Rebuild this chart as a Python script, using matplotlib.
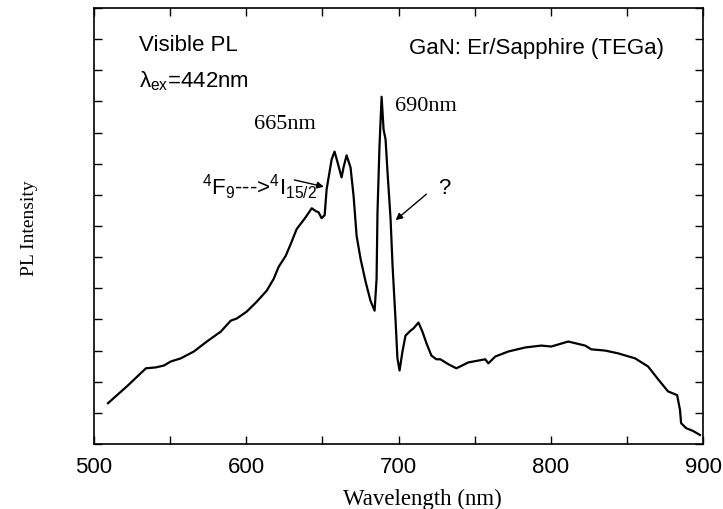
import matplotlib
matplotlib.use("Agg")
import matplotlib.pyplot as plt
from matplotlib.ticker import MultipleLocator, FuncFormatter

plt.rcParams['mathtext.fontset'] = 'custom'
plt.rcParams['mathtext.rm'] = 'Liberation Sans'
plt.rcParams['mathtext.it'] = 'Liberation Sans'

wavelength = [509.2, 521.6, 534.1, 540.7, 545.9, 550.5, 557.0, 565.6, 574.1, 583.3,
              589.8, 593.8, 600.3, 606.9, 613.4, 618.0, 621.3, 625.9, 629.2, 633.1,
              639.0, 643.0, 645.6, 647.5, 649.5, 651.5, 652.8, 656.1, 658.0, 660.0,
              662.6, 663.9, 665.9, 668.5, 670.5, 672.5, 675.1, 678.4, 681.6, 684.3,
              685.6, 686.2, 687.5, 688.9, 690.2, 691.5, 692.8, 694.8, 696.1, 698.0,
              699.3, 700.7, 702.6, 704.6, 707.9, 709.8, 713.1, 715.7, 718.4, 721.6,
              724.9, 727.5, 732.8, 738.0, 745.9, 757.0, 759.0, 763.6, 772.1, 783.3,
              793.8, 800.3, 811.5, 822.6, 826.6, 835.7, 844.3, 855.4, 863.9, 870.5,
              877.0, 883.0, 884.9, 885.6, 888.9, 893.4, 898.0]
intensity = [1.31, 1.85, 2.43, 2.46, 2.52, 2.65, 2.75, 2.97, 3.29, 3.61,
             3.96, 4.03, 4.25, 4.57, 4.92, 5.30, 5.69, 6.04, 6.42, 6.90,
             7.28, 7.57, 7.48, 7.44, 7.25, 7.35, 8.18, 9.14, 9.39, 9.04,
             8.56, 8.88, 9.27, 8.88, 7.96, 6.68, 5.94, 5.21, 4.60, 4.28,
             5.30, 7.44, 9.55, 11.15, 10.10, 9.78, 8.72, 7.22, 5.72, 4.03,
             2.75, 2.36, 2.97, 3.48, 3.64, 3.71, 3.90, 3.61, 3.23, 2.84,
             2.72, 2.72, 2.56, 2.43, 2.62, 2.72, 2.59, 2.81, 2.97, 3.10,
             3.16, 3.13, 3.29, 3.16, 3.04, 3.00, 2.91, 2.75, 2.49, 2.08,
             1.69, 1.57, 1.09, 0.67, 0.51, 0.42, 0.29]

fig = plt.figure(figsize=(7.23, 5.10), dpi=100)
ax = fig.add_axes([94/723, 65/510, 609/723, 436/510])
ax.plot(wavelength, intensity, color='black', lw=1.6)
ax.set_xlim(500, 900)
ax.set_ylim(0, 14)

ax.xaxis.set_major_locator(MultipleLocator(50))
ax.xaxis.set_major_formatter(FuncFormatter(lambda v, p: f"{int(v)}" if int(round(v)) % 100 == 0 else ""))
ax.yaxis.set_major_locator(MultipleLocator(1))
ax.tick_params(direction='in', length=6, width=1.0, top=True, right=True,
               labelleft=False, labelsize=16, pad=9)
for lbl in ax.get_xticklabels():
    lbl.set_fontfamily('Liberation Sans')
for s in ax.spines.values():
    s.set_linewidth(1.2)

fig.text(422/723, 5/510, 'Wavelength (nm)', family='Liberation Serif', fontsize=16.5,
         ha='center', va='baseline')
fig.text(29/723, (510-228)/510, 'PL Intensity', family='Liberation Serif', fontsize=14,
         ha='center', va='center', rotation=90)

sans = 'Liberation Sans'
ax.text(529.5, 12.84, 'Visible PL', family=sans, fontsize=16, va='center', ha='left')
ax.text(529.5, 11.69, r'$\mathregular{\lambda_{ex}}$=442nm', family=sans, fontsize=16, va='center', ha='left')
ax.text(707.2, 12.72, 'GaN: Er/Sapphire (TEGa)', family=sans, fontsize=16, va='center', ha='left')
ax.text(605.4, 10.29, '665nm', family='Liberation Serif', fontsize=16, va='center', ha='left')
ax.text(698.0, 10.86, '690nm', family='Liberation Serif', fontsize=16, va='center', ha='left')
ax.text(570.8, 8.27, r'$\mathregular{^4F_9}$--->$\mathregular{^4I_{15/2}}$', family=sans, fontsize=16,
        va='center', ha='left')
ax.text(726.2, 8.24, '?', family=sans, fontsize=16, va='center', ha='left')
ax.annotate('', xy=(652.8, 8.24), xytext=(629.8, 8.5),
            arrowprops=dict(arrowstyle='-|>', color='black', lw=1.0, mutation_scale=10))
ax.annotate('', xy=(696.7, 7.13), xytext=(719.7, 8.08),
            arrowprops=dict(arrowstyle='-|>', color='black', lw=1.0, mutation_scale=10))

fig.savefig('out.png', dpi=100)
